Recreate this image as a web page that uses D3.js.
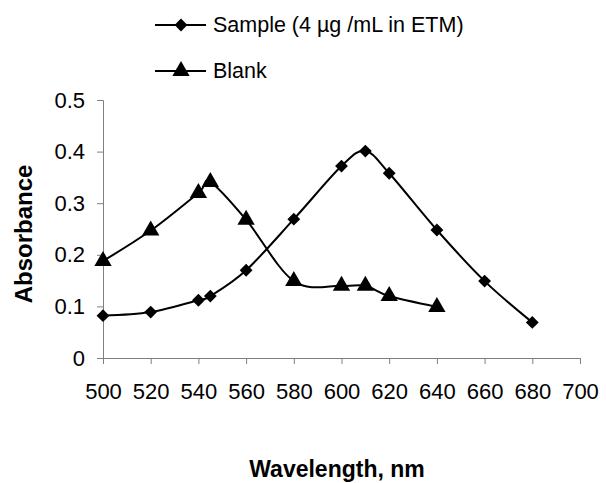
<!DOCTYPE html>
<html><head><meta charset="utf-8">
<script src="https://cdn.jsdelivr.net/npm/d3@7/dist/d3.min.js"></script>
<style>body{margin:0;background:#fff}svg{display:block}text{font-family:"Liberation Sans",Arial,sans-serif}</style>
</head><body><svg id="c" width="606" height="483"></svg>
<script>
const sampleX = [500, 520, 540, 545, 560, 580, 600, 610, 620, 640, 660, 680];
const sampleY = [0.082, 0.089, 0.112, 0.12, 0.17, 0.269, 0.372, 0.401, 0.358, 0.248, 0.149, 0.069];
const blankX = [500, 520, 540, 545, 560, 580, 600, 610, 620, 640];
const blankY = [0.188, 0.247, 0.32, 0.341, 0.268, 0.149, 0.14, 0.14, 0.12, 0.099];
const xTicks = [500, 520, 540, 560, 580, 600, 620, 640, 660, 680, 700];
const yTicks = [0, 0.1, 0.2, 0.3, 0.4, 0.5];
const seriesNames = ["Sample (4 µg /mL in ETM)", "Blank"];

const svg = d3.select("#c");
const x = d3.scaleLinear().domain([500, 700]).range([103, 580]);
const y = d3.scaleLinear().domain([0, 0.5]).range([358, 100]);
const axisColor = "#808080";

const xa = svg.append("g").attr("transform", "translate(0,358)")
  .call(d3.axisBottom(x).tickValues(xTicks).tickFormat(d3.format("d")).tickSizeOuter(0).tickSize(6).tickPadding(19));
const ya = svg.append("g").attr("transform", "translate(103,0)")
  .call(d3.axisLeft(y).tickValues(yTicks).tickFormat(d => d === 0 ? "0" : d3.format(".1f")(d)).tickSizeOuter(0).tickSize(6).tickPadding(12));
[xa, ya].forEach(a => {
  a.selectAll("path,line").attr("stroke", axisColor).attr("stroke-width", 1);
  a.selectAll("text").attr("font-size", 22).attr("fill", "#000").attr("font-family", "Liberation Sans, Arial, sans-serif");
});

const line = d3.line().x(d => x(d[0])).y(d => y(d[1])).curve(d3.curveCatmullRom.alpha(0));
const sData = sampleX.map((v, i) => [v, sampleY[i]]);
const bData = blankX.map((v, i) => [v, blankY[i]]);
const diamond = d3.symbol().type(d3.symbolDiamond2).size(105);
const tri = d3.symbol().type(d3.symbolTriangle).size(130);

function drawSeries(data, sym) {
  svg.append("path").attr("d", line(data)).attr("fill", "none").attr("stroke", "#000").attr("stroke-width", 2);
  svg.append("g").selectAll("path").data(data).join("path")
    .attr("transform", d => `translate(${x(d[0])},${y(d[1])})`).attr("d", sym).attr("fill", "#000");
}
drawSeries(sData, diamond);
drawSeries(bData, tri);

// legend
const leg = [{y: 25, sym: diamond}, {y: 71, sym: tri}];
leg.forEach((l, i) => {
  svg.append("line").attr("x1", 155).attr("x2", 206).attr("y1", l.y).attr("y2", l.y).attr("stroke", "#000").attr("stroke-width", 2);
  svg.append("path").attr("d", l.sym).attr("transform", `translate(181,${l.y})`).attr("fill", "#000");
  svg.append("text").attr("x", 213).attr("y", l.y + 7).attr("font-size", 21.5).text(seriesNames[i]);
});

svg.append("text").attr("transform", "translate(32,234) rotate(-90)").attr("text-anchor", "middle")
  .attr("font-size", 24).attr("font-weight", "bold").text("Absorbance");
svg.append("text").attr("x", 337).attr("y", 477).attr("text-anchor", "middle")
  .attr("font-size", 23).attr("font-weight", "bold").text("Wavelength, nm");
</script></body></html>
